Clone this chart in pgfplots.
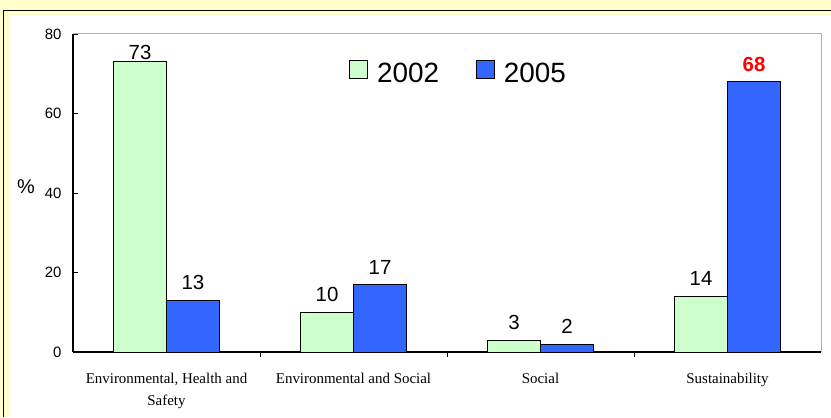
\documentclass[border=0pt]{standalone}
\usepackage{fontspec}
\setmainfont{Liberation Sans}
\newfontfamily\timesfont{Liberation Serif}
\usepackage{pgfplots}
\pgfplotsset{compat=1.18}
\definecolor{bgyellow}{HTML}{FFFFCC}
\definecolor{bargreen}{HTML}{CCFFCC}
\definecolor{barblue}{HTML}{3366FF}
\newcommand{\lift}[1]{\raisebox{8.5bp}{#1}}
\begin{document}
\begin{tikzpicture}[x=1bp,y=1bp]
\fill[bgyellow] (0,0) rectangle (831,417);
\draw[black, line width=1.8bp] (3.5,0) -- (3.5,406.5) -- (831,406.5);
\fill[white] (10,0) rectangle (831,401);
\begin{axis}[
  at={(73bp,65bp)}, anchor=south west,
  scale only axis, width=748bp, height=318bp,
  xmin=-0.5, xmax=3.5, ymin=0, ymax=80,
  clip=false,
  axis x line*=bottom, axis y line*=left,
  axis line style={-, black, line width=1.2bp},
  ytick={0,20,40,60,80},
  xtick={0,1,2,3},
  xticklabels={{Environmental, Health and\\Safety},{Environmental and Social},{Social},{Sustainability}},
  minor xtick={0.5,1.5,2.5},
  major x tick style={draw=none},
  minor x tick style={black, line width=0.8bp},
  y tick style={black, line width=0.8bp},
  minor tick length=5bp,
  major tick length=5bp,
  tick align=inside,
  xticklabel style={font=\timesfont\fontsize{15}{22}\selectfont, align=center, anchor=north, yshift=-13bp},
  yticklabel style={font=\fontsize{15}{18}\selectfont, xshift=-8bp},
  /pgf/number format/assume math mode=true,
  ylabel={\%},
  every axis y label/.style={at={(rel axis cs:-0.0628,0.519)}, anchor=center, font=\fontsize{20}{24}\selectfont},
  ybar=0pt, bar width=0.2834,
  every node near coord/.append style={font=\fontsize{20.5}{24}\selectfont, inner sep=1.5bp, black},
  legend columns=2,
  legend style={draw=none, fill=none, at={(0.369,0.877)}, anchor=west,
    font=\fontsize{28}{32}\selectfont, inner sep=0pt,
    /tikz/every even column/.append style={column sep=35bp}},
  legend image code/.code={\draw[#1, draw=black, line width=0.8bp] (0bp,-5bp) rectangle (18bp,13bp); \path (25bp,0bp);},
]
\draw[gray!60, line width=1bp] (rel axis cs:0,1) -- (rel axis cs:1,1) -- (rel axis cs:1,0);
\addplot[fill=bargreen, draw=black, line width=0.8bp, nodes near coords, point meta=explicit symbolic] coordinates {(0,73)[73] (1,10)[\lift{10}] (2,3)[\lift{3}] (3,14)[\lift{14}]};
\addplot[fill=barblue, draw=black, line width=0.8bp, nodes near coords, point meta=explicit symbolic] coordinates {(0,13)[\lift{13}] (1,17)[\lift{17}] (2,2)[\lift{2}] (3,68)[{\lift{\color{red}\bfseries 68}}]};
\legend{2002,2005}
\end{axis}
\pgfresetboundingbox
\path[use as bounding box] (0,0) rectangle (831,417);
\end{tikzpicture}
\end{document}
